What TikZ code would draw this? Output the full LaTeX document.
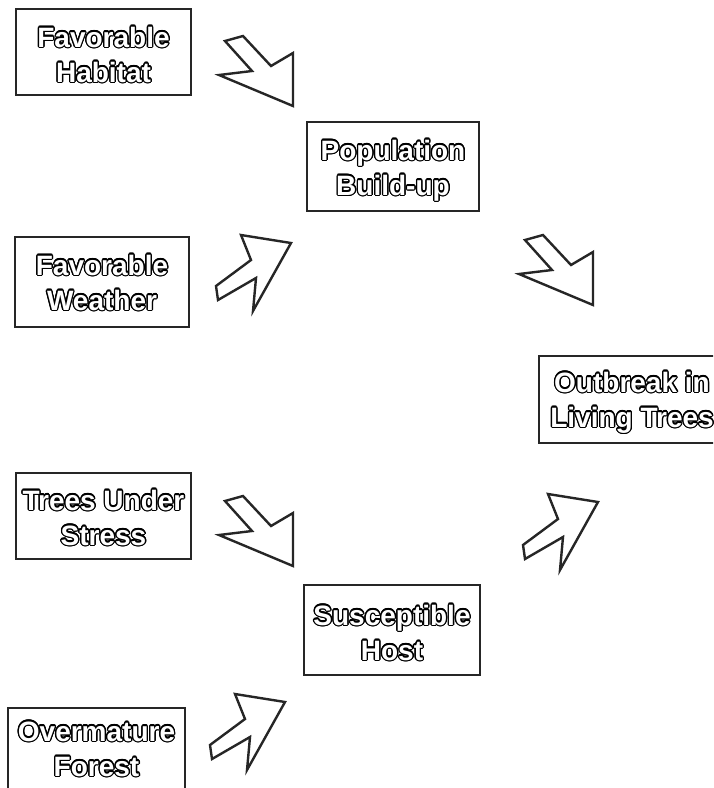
\documentclass[tikz,border=0pt]{standalone}
\usepackage{fontspec}
\setmainfont{Liberation Sans}
\usepackage{xcolor}
\usepackage{contour}
\contourlength{1.3pt}
\newcommand{\hol}[1]{\contour{black}{\textcolor{white}{#1}}}
\begin{document}
\begin{tikzpicture}[x=1pt,y=-1pt,
  blk/.style={draw=black!85, line width=1.3pt, inner sep=0pt, outer sep=0pt,
    anchor=north west, align=center,
    font=\fontsize{28}{35}\selectfont\bfseries},
  barrow/.style={draw=black!85, line width=2.4pt, line join=miter, fill=white},
  pics/drarrow/.style={code={\draw[barrow] (6,5)--(24,0)--(52,30)--(74,17)--(74,70)--(0,39)--(33,35)--cycle;}},
  pics/urarrow/.style={code={\draw[barrow] (25,0)--(75,8)--(37,76)--(40,43)--(2,65)--(0,51)--(35,25)--cycle;}}
]
\path[use as bounding box, clip] (0,0) rectangle (713,788);
\fill[white] (0,0) rectangle (713,788);

\node[blk, minimum width=175pt, text height=73pt, text depth=13pt] (habitat) at (16,9) {\hol{Favorable}\\\hol{Habitat}};
\node[blk, minimum width=172pt, text height=73pt, text depth=16pt] (buildup) at (307,122) {\hol{Population}\\\hol{Build-up}};
\node[blk, minimum width=174pt, text height=73pt, text depth=17pt] (weather) at (15,237) {\hol{Favorable}\\\hol{Weather}};
\node[blk, minimum width=186pt, text height=71pt, text depth=16pt] (outbreak) at (539,356) {\hol{Outbreak in}\\\hol{Living Trees}};
\node[blk, minimum width=175pt, text height=72pt, text depth=14pt] (stress) at (16,473) {\hol{Trees Under}\\\hol{Stress}};
\node[blk, minimum width=176pt, text height=75pt, text depth=15pt] (host) at (304,585) {\hol{Susceptible}\\\hol{Host}};
\node[blk, minimum width=177pt, text height=68pt, text depth=19pt] (forest) at (8,708) {\hol{Overmature}\\\hol{Forest}};

\pic at (219,36) {drarrow};
\pic at (216,235) {urarrow};
\pic at (519,235) {drarrow};
\pic at (219,496) {drarrow};
\pic at (523,494) {urarrow};
\pic at (210,694) {urarrow};
\end{tikzpicture}
\end{document}
